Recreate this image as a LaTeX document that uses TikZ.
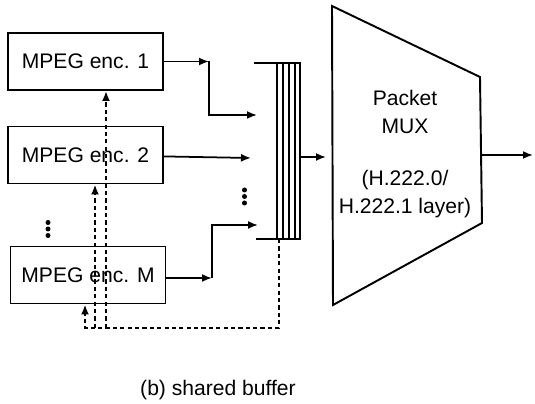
\documentclass[tikz,border=0pt]{standalone}
\usepackage{fontspec}
\setmainfont{Liberation Sans}
\usetikzlibrary{arrows.meta,positioning,calc}
\tikzset{
  >={Latex[length=2mm,width=1.6mm]},
  enc/.style={draw,line width=1.1pt,minimum width=3.1cm,minimum height=1.14cm,inner sep=0pt,font=\fontsize{12}{14}\selectfont},
  flow/.style={->,line width=1pt},
  ctrl/.style={->,line width=1.4pt,dash pattern=on 2.4pt off 1.8pt},
  lab/.style={font=\fontsize{12}{15.9}\selectfont,align=center},
  dotmark/.style={circle,fill,inner sep=0pt,minimum size=1mm},
  edge/.style={line width=1.1pt}
}
\begin{document}
\begin{tikzpicture}[x=1cm,y=1cm]
        \useasboundingbox (0,0) rectangle (10.7,8.08);
        % encoders
        \node[enc] (e1) at (1.71,6.85) {MPEG enc. 1};
        \node[enc] (e2) at (1.71,4.98) {MPEG enc. 2};
        \node[enc] (em) at (1.76,2.58) {MPEG enc. M};
        \foreach \k in {0,1,2} \node[dotmark] (l\k) at (0.96,3.63-0.13*\k) {};
        \foreach \k in {0,1,2} \node[dotmark] (c\k) at (4.89,4.28-0.13*\k) {};
        % shared buffer
        \draw[edge] (5.08,6.82) -- (6.0,6.82) -- (6.0,3.30) -- (5.12,3.30);
        \foreach \x in {5.54,5.66,5.78,5.90} \draw[edge] (\x,6.82) -- (\x,3.30);
        \coordinate (in1) at (5.14,5.78);
        \coordinate (in2) at (5.02,4.92);
        \coordinate (inm) at (5.16,3.58);
        \coordinate (bo) at (6.0,4.94);
        \coordinate (bb) at (5.58,3.30);
        % packet mux
        \coordinate (m1) at (6.64,7.96);
        \coordinate (m2) at (9.60,6.54);
        \coordinate (m3) at (9.64,3.62);
        \coordinate (m4) at (6.66,1.98);
        \draw[edge] (m1) -- (m2) -- (m3) -- (m4) -- cycle;
        \node[lab] (mux) at (8.10,5.0) {Packet\\MUX\\[0.48cm](H.222.0/\\H.222.1 layer)};
        \coordinate (mi) at (6.52,4.94);
        \coordinate (mo) at (9.64,4.98);
        \coordinate (out) at (10.66,4.98);
        % data flow
        \coordinate (k1) at (4.18,6.85);
        \coordinate (km) at (4.24,2.52);
        \draw[flow] (e1) -- (k1);
        \draw[flow] (k1) |- (in1);
        \draw[flow] (e2) -- (in2);
        \draw[flow] (em.east |- km) -- (km);
        \draw[flow] (km) |- (inm);
        \draw[flow] (bo) -- (mi);
        \draw[flow] (mo) -- (out);
        % buffer feedback
        \coordinate (d0) at (5.58,1.52);
        \coordinate (dm) at (1.70,1.52);
        \coordinate (d2) at (1.90,1.52);
        \coordinate (d1) at (2.12,1.52);
        \draw[ctrl] (bb) -- (d0) -- (dm) -- (em.south -| dm);
        \draw[ctrl] (d2) -- (e2.south -| d2);
        \draw[ctrl] (d1) -- (e1.south -| d1);
        \node[lab] (cap) at (4.36,0.28) {(b) shared buffer};
      \end{tikzpicture}
\end{document}
